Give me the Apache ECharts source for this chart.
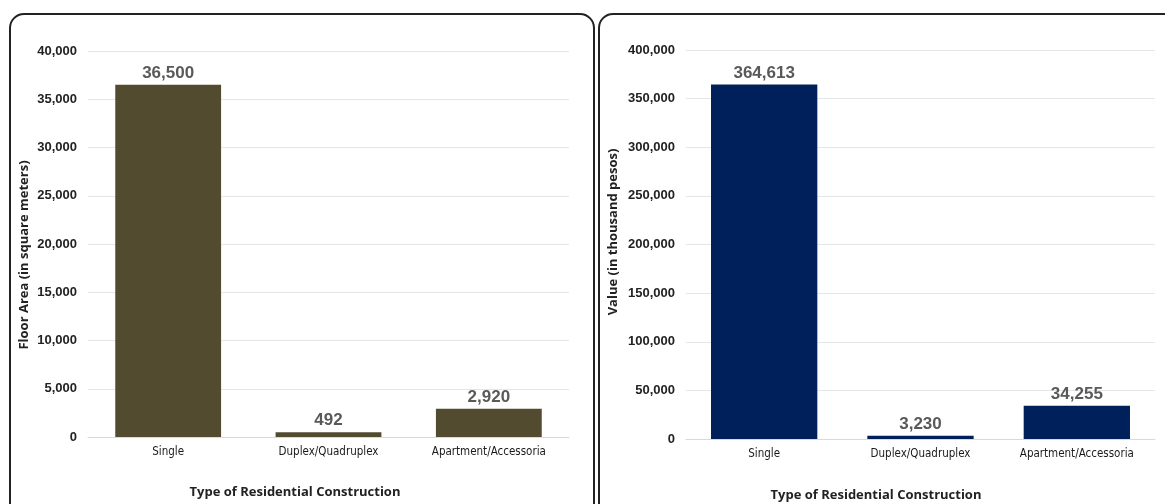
<!DOCTYPE html>
<html>
<head>
<meta charset="utf-8">
<script src="https://cdn.jsdelivr.net/npm/echarts@6/dist/echarts.min.js"></script>
<style>
html,body{margin:0;padding:0;background:#fff;}
#main{width:1165px;height:504px;}
</style>
</head>
<body>
<div id="main"></div>
<script>
const categories = ['Single', 'Duplex/Quadruplex', 'Apartment/Accessoria'];
const floorArea = [36500, 492, 2920];
const valueThousandPesos = [364613, 3230, 34255];
const leftTicks = {min: 0, max: 40000, interval: 5000};
const rightTicks = {min: 0, max: 400000, interval: 50000};
const xTitle = 'Type of Residential Construction';
const leftYTitle = 'Floor Area (in square meters)';
const rightYTitle = 'Value (in thousand pesos)';

const chart = echarts.init(document.getElementById('main'), null, {renderer: 'canvas'});
const fmt = v => v.toLocaleString('en-US');
const tickLabel = {fontFamily: 'Liberation Sans, Arial', fontWeight: 'bold', fontSize: 13, color: '#222', margin: 11, formatter: v => fmt(v)};
const catLabel = {fontFamily: 'DejaVu Sans Condensed, Liberation Sans Narrow, Liberation Sans', fontSize: 11.5, color: '#1a1a1a', margin: 9, interval: 0};
const titleFont = {fontFamily: 'Open Sans, Liberation Sans', fontWeight: 'bold', fontSize: 13, fill: '#222'};
const dataLabel = {show: true, position: 'top', distance: 3, fontFamily: 'Liberation Sans, Arial', fontWeight: 'bold', fontSize: 17, color: '#595959', formatter: p => fmt(p.value)};

chart.setOption({
  animation: false,
  graphic: [
    {type: 'rect', shape: {x: 10, y: 14, width: 584, height: 520, r: 14}, style: {fill: 'none', stroke: '#222', lineWidth: 2}},
    {type: 'rect', shape: {x: 599, y: 14, width: 590, height: 520, r: 14}, style: {fill: 'none', stroke: '#222', lineWidth: 2}},
    {type: 'text', x: 295, y: 492, style: Object.assign({text: xTitle, align: 'center', verticalAlign: 'middle'}, titleFont)},
    {type: 'text', x: 876, y: 495, style: Object.assign({text: xTitle, align: 'center', verticalAlign: 'middle'}, titleFont)},
    {type: 'text', x: 24, y: 255, rotation: Math.PI / 2, style: Object.assign({text: leftYTitle, align: 'center', verticalAlign: 'middle'}, titleFont)},
    {type: 'text', x: 613, y: 232, rotation: Math.PI / 2, style: Object.assign({text: rightYTitle, align: 'center', verticalAlign: 'middle'}, titleFont)}
  ],
  grid: [
    {left: 88, right: 596, top: 51, bottom: 67},
    {left: 686, right: 10, top: 50, bottom: 65}
  ],
  xAxis: [
    {type: 'category', gridIndex: 0, data: categories, axisTick: {show: false}, axisLine: {lineStyle: {color: '#d9d9d9'}}, axisLabel: catLabel},
    {type: 'category', gridIndex: 1, data: categories, axisTick: {show: false}, axisLine: {lineStyle: {color: '#d9d9d9'}}, axisLabel: catLabel}
  ],
  yAxis: [
    {type: 'value', gridIndex: 0, min: leftTicks.min, max: leftTicks.max, interval: leftTicks.interval, axisLabel: tickLabel,
     splitLine: {lineStyle: {color: '#e6e6e6'}}, axisLine: {show: false}, axisTick: {show: false}},
    {type: 'value', gridIndex: 1, min: rightTicks.min, max: rightTicks.max, interval: rightTicks.interval, axisLabel: tickLabel,
     splitLine: {lineStyle: {color: '#e6e6e6'}}, axisLine: {show: false}, axisTick: {show: false}}
  ],
  series: [
    {type: 'bar', xAxisIndex: 0, yAxisIndex: 0, data: floorArea, barWidth: '66%', itemStyle: {color: '#524B30'}, label: dataLabel},
    {type: 'bar', xAxisIndex: 1, yAxisIndex: 1, data: valueThousandPesos, barWidth: '68%', itemStyle: {color: '#00205B'}, label: dataLabel}
  ]
});
</script>
</body>
</html>
